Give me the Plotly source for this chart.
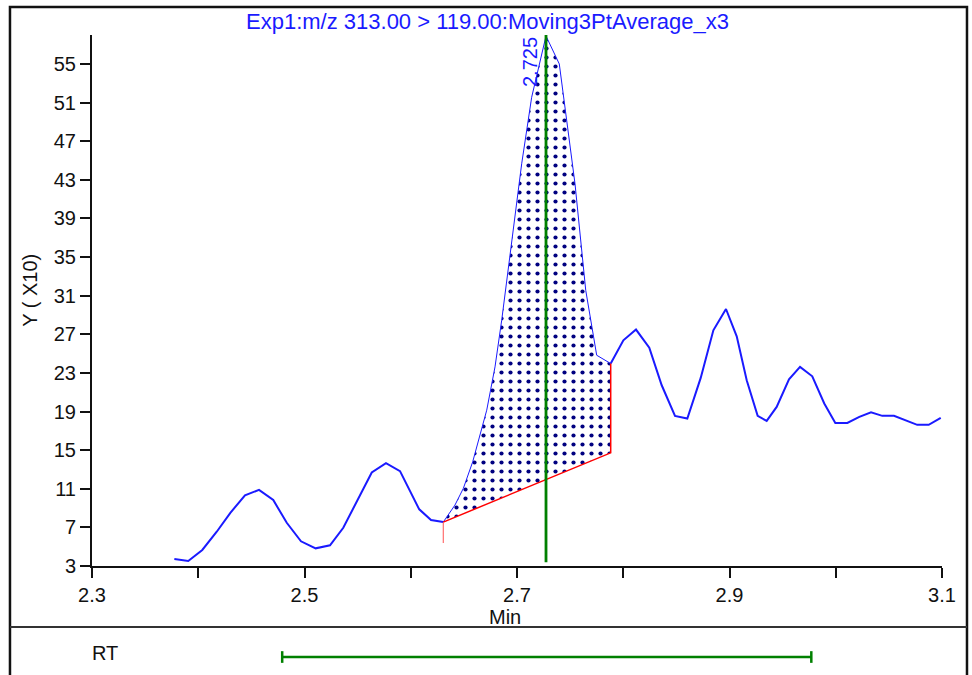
import plotly.graph_objects as go

# ---------------- data ----------------
time_min = [2.3775, 2.3906, 2.4038, 2.4174, 2.4302, 2.4440, 2.4572, 2.4706, 2.4833, 2.4967,
            2.5105, 2.5240, 2.5365, 2.5497, 2.5633, 2.5767, 2.5899, 2.6080, 2.6191, 2.6306,
            2.6416, 2.6495, 2.6583, 2.6715, 2.6793, 2.6856, 2.7044, 2.7138, 2.7273, 2.7398,
            2.7452, 2.7546, 2.7647, 2.7687, 2.7750, 2.7882, 2.8001, 2.8120, 2.8245, 2.8362,
            2.8487, 2.8603, 2.8729, 2.8848, 2.8967, 2.9068, 2.9162, 2.9265, 2.9350, 2.9444,
            2.9560, 2.9664, 2.9779, 2.9892, 2.9996, 3.0109, 3.0222, 3.0332, 3.0438, 3.0548,
            3.0661, 3.0767, 3.0875, 3.0988]
intensity_x10 = [3.72, 3.52, 4.66, 6.55, 8.51, 10.31, 10.89, 9.83, 7.48, 5.56,
                 4.83, 5.14, 6.96, 9.83, 12.69, 13.65, 12.83, 8.87, 7.76, 7.55,
                 9.31, 11.04, 13.79, 19.14, 23.62, 28.45, 44.66, 51.55, 57.90, 55.00,
                 50.51, 42.59, 31.55, 28.79, 24.83, 23.97, 26.38, 27.49, 25.62, 21.72,
                 18.55, 18.28, 22.48, 27.41, 29.62, 26.79, 22.24, 18.55, 18.03, 19.48,
                 22.34, 23.62, 22.65, 19.83, 17.82, 17.82, 18.44, 18.93, 18.55, 18.55,
                 18.03, 17.62, 17.62, 18.34]

peak_start_idx = 19          # integration start point
peak_end_idx = 35            # integration end point
baseline_start = 7.55
baseline_end = 14.72
start_tick_bottom = 5.38
rt_value = 2.7273
rt_label = "2.725"
rt_line_bottom = 3.4
rt_window = [2.479, 2.977]

y_tick_vals = list(range(3, 56, 4))
x_tick_vals = [2.3, 2.4, 2.5, 2.6, 2.7, 2.8, 2.9, 3.0, 3.1]
x_tick_text = ["2.3", "", "2.5", "", "2.7", "", "2.9", "", "3.1"]

title_text = "Exp1:m/z 313.00 > 119.00:Moving3PtAverage_x3"
y_title = "Y ( X10)"
x_title = "Min"
rt_row_label = "RT"

# ---------------- figure ----------------
FONT = "Liberation Sans, Arial, sans-serif"
BLUE = "#1a1aff"
NAVY = "#000080"
GREEN = "#008000"
RED = "#ff0000"

fig = go.Figure()

s, e = peak_start_idx, peak_end_idx
poly_x = time_min[s:e + 1] + [time_min[e], time_min[s]]
poly_y = intensity_x10[s:e + 1] + [baseline_end, baseline_start]
fig.add_trace(go.Scatter(
    x=poly_x, y=poly_y, mode="lines", fill="toself", line=dict(width=0, color=BLUE),
    fillcolor="white",
    fillpattern=dict(shape=".", fgcolor=NAVY, bgcolor="white", size=9, solidity=0.17),
    hoverinfo="skip", showlegend=False))

# chromatogram line: before, peak (thin), after
fig.add_trace(go.Scatter(x=time_min[:s + 1], y=intensity_x10[:s + 1], mode="lines",
                         line=dict(color=BLUE, width=2), showlegend=False))
fig.add_trace(go.Scatter(x=time_min[s:e + 1], y=intensity_x10[s:e + 1], mode="lines",
                         line=dict(color=BLUE, width=1), showlegend=False))
fig.add_trace(go.Scatter(x=time_min[e:], y=intensity_x10[e:], mode="lines",
                         line=dict(color=BLUE, width=2), showlegend=False))

# baseline + drop lines
fig.add_trace(go.Scatter(x=[time_min[s], time_min[e], time_min[e]],
                         y=[baseline_start, baseline_end, intensity_x10[e]], mode="lines",
                         line=dict(color=RED, width=1.5), showlegend=False))
fig.add_trace(go.Scatter(x=[time_min[s], time_min[s]], y=[baseline_start, start_tick_bottom],
                         mode="lines", line=dict(color="#ff5050", width=1), showlegend=False))

# retention time marker
fig.add_trace(go.Scatter(x=[rt_value, rt_value], y=[rt_line_bottom, 58], mode="lines",
                         line=dict(color=GREEN, width=2.8), showlegend=False))

fig.add_annotation(x=rt_value, y=55.2, xref="x", yref="y", text=rt_label, textangle=-90,
                   showarrow=False, xshift=-16, xanchor="center", yanchor="middle",
                   font=dict(family=FONT, size=20, color=BLUE))

# RT window bar in lower panel
yb = -0.1714
fig.add_shape(type="line", xref="x", yref="paper", x0=rt_window[0], x1=rt_window[1],
              y0=yb, y1=yb, line=dict(color=GREEN, width=2.5))
for xv in rt_window:
    fig.add_shape(type="line", xref="x", yref="paper", x0=xv, x1=xv,
                  y0=yb - 0.011, y1=yb + 0.011, line=dict(color=GREEN, width=2.5))

# outer frame and separator
fig.add_shape(type="rect", xref="paper", yref="paper", x0=-0.0965, x1=1.0294,
              y0=-0.25, y1=1.0527, line=dict(color="#111111", width=2.5), layer="below")
fig.add_shape(type="line", xref="paper", yref="paper", x0=-0.0965, x1=1.0294,
              y0=-0.1149, y1=-0.1149, line=dict(color="#333333", width=2))

fig.add_annotation(x=0.4653, y=1.0245, xref="paper", yref="paper", text=title_text,
                   showarrow=False, xanchor="center", yanchor="middle",
                   font=dict(family=FONT, size=22, color=BLUE))
fig.add_annotation(x=-0.073, y=0.52, xref="paper", yref="paper", text=y_title,
                   textangle=-90, showarrow=False, xanchor="center", yanchor="middle",
                   font=dict(family=FONT, size=20, color="#111111"))
fig.add_annotation(x=0.486, y=-0.096, xref="paper", yref="paper", text=x_title,
                   showarrow=False, xanchor="center", yanchor="middle",
                   font=dict(family=FONT, size=20, color="#111111"))
fig.add_annotation(x=0.0153, y=-0.164, xref="paper", yref="paper", text=rt_row_label,
                   showarrow=False, xanchor="center", yanchor="middle",
                   font=dict(family=FONT, size=20, color="#111111"))

fig.update_layout(
    width=972, height=675, margin=dict(l=92, r=30, t=35, b=109),
    paper_bgcolor="white", plot_bgcolor="white", template="none",
    font=dict(family=FONT, size=20, color="#111111"),
    showlegend=False,
    xaxis=dict(range=[2.3, 3.1], tickvals=x_tick_vals, ticktext=x_tick_text,
               ticks="outside", ticklen=10, tickwidth=2, tickcolor="#111111",
               showline=True, linewidth=2, linecolor="#111111", showgrid=False,
               zeroline=False, tickfont=dict(size=20), automargin=False),
    yaxis=dict(range=[3, 58], tickvals=y_tick_vals, ticks="outside", ticklen=10,
               tickwidth=2, tickcolor="#111111", showline=True, linewidth=2,
               linecolor="#111111", showgrid=False, zeroline=False,
               tickfont=dict(size=20), automargin=False),
)

fig.write_html("out.html", config={"displayModeBar": False},
               post_script="document.body.style.margin='0';document.body.style.overflow='hidden';")
